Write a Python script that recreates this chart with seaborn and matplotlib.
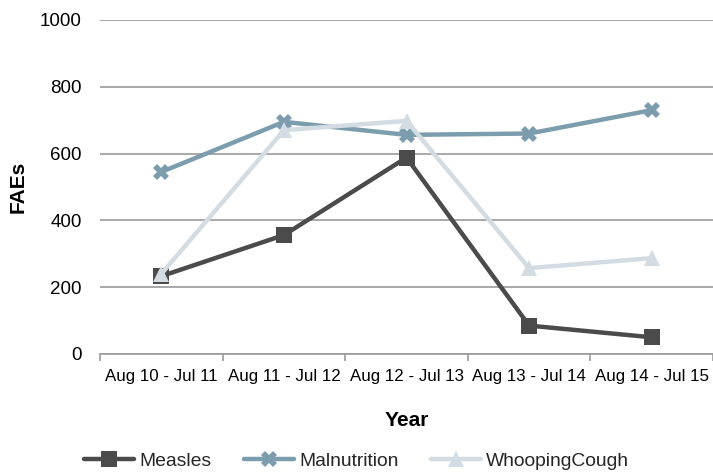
import numpy as np
import pandas as pd
import matplotlib
matplotlib.use('Agg')
import matplotlib.pyplot as plt
from matplotlib.ticker import FixedLocator
import seaborn as sns

sns.set_theme(style='white')
plt.rcParams['font.family'] = ['Liberation Sans', 'DejaVu Sans']

# data
years = ['Aug 10 - Jul 11', 'Aug 11 - Jul 12', 'Aug 12 - Jul 13',
         'Aug 13 - Jul 14', 'Aug 14 - Jul 15']
measles = [233, 356, 588, 85, 50]
malnutrition = [545, 695, 656, 660, 730]
whooping = [240, 670, 698, 257, 287]

series = ['Measles', 'Malnutrition', 'WhoopingCough']
colors = {'Measles': '#4b4b4b', 'Malnutrition': '#7b9dad', 'WhoopingCough': '#d3dce3'}
marks = {'Measles': 's', 'Malnutrition': 'X', 'WhoopingCough': '^'}

df = pd.DataFrame({
    'idx': list(range(len(years))) * 3,
    'FAEs': measles + malnutrition + whooping,
    'disease': [s for s in series for _ in years],
})

fig = plt.figure(figsize=(7.13, 4.73), dpi=100)
ax = fig.add_axes([0.1403, 0.2516, 0.8597, 0.7062])

sns.lineplot(data=df, x='idx', y='FAEs', hue='disease', style='disease',
             hue_order=series, style_order=series, palette=colors,
             markers=marks, dashes=False, linewidth=3.2, markersize=11,
             markeredgewidth=0, ax=ax, legend=False)

ax.set_xlim(-0.5, len(years) - 0.5)
ax.set_ylim(0, 1000)
ax.set_yticks([0, 200, 400, 600, 800, 1000])
ax.yaxis.grid(True, color='#9a9a9a', linewidth=1.2)
ax.xaxis.grid(False)

ax.set_xticks(range(len(years)))
ax.set_xticklabels(years)
ax.xaxis.set_minor_locator(FixedLocator(np.arange(-0.5, len(years), 1.0)))
ax.tick_params(axis='x', which='major', length=0, pad=11, labelsize=12.2, colors='black')
ax.tick_params(axis='x', which='minor', length=5, width=1.2, color='#9a9a9a', bottom=True)
ax.tick_params(axis='y', length=0, pad=13, labelsize=13.5, colors='black')

for s in ['left', 'right', 'top']:
    ax.spines[s].set_visible(False)
ax.spines['bottom'].set_color('#9a9a9a')
ax.spines['bottom'].set_linewidth(1.2)

ax.set_xlabel('Year', fontsize=15, fontweight='bold', labelpad=19, color='black')
ax.set_ylabel('FAEs', fontsize=15, fontweight='bold', labelpad=9, color='black')

handles = ax.lines[:3]
fig.legend(handles, series, loc='center', bbox_to_anchor=(0.5, 0.025), ncol=3,
           frameon=False, fontsize=13.9, handlelength=2.6, handletextpad=0.25,
           columnspacing=1.7, numpoints=1)

fig.savefig('out.png', dpi=100)
